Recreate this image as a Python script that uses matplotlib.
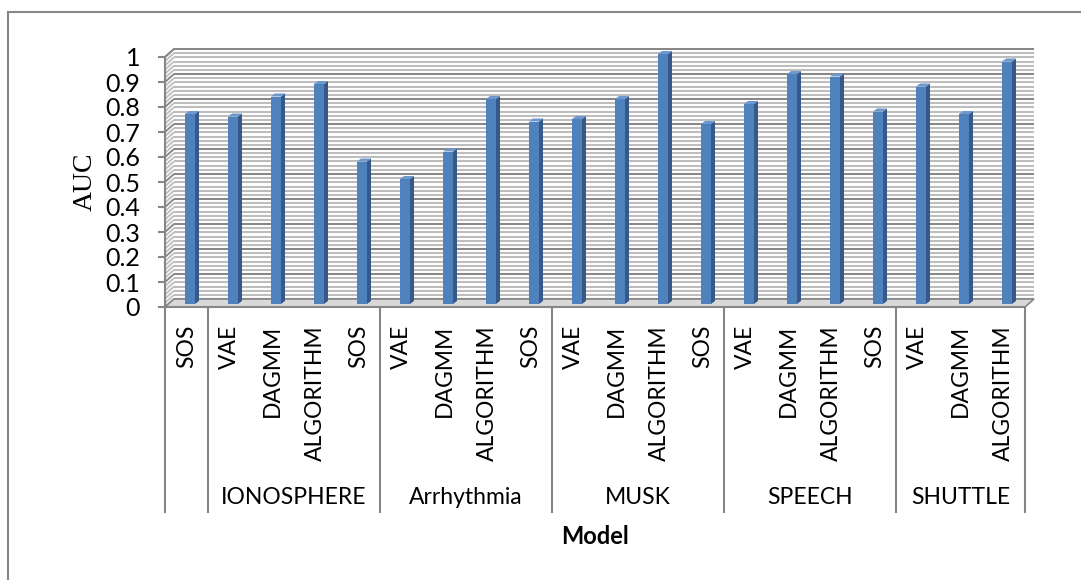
"""AUC by model and dataset - Excel style 3D column chart."""

import matplotlib
matplotlib.use("Agg")
import matplotlib.pyplot as plt
import numpy as np
from matplotlib.collections import LineCollection
from matplotlib.lines import Line2D
from matplotlib.patches import Polygon, Rectangle

models = ["SOS",
          "VAE", "DAGMM", "ALGORITHM", "SOS",
          "VAE", "DAGMM", "ALGORITHM", "SOS",
          "VAE", "DAGMM", "ALGORITHM", "SOS",
          "VAE", "DAGMM", "ALGORITHM", "SOS",
          "VAE", "DAGMM", "ALGORITHM"]
auc = [0.76,
       0.75, 0.83, 0.88, 0.57,
       0.50, 0.61, 0.82, 0.73,
       0.74, 0.82, 1.00, 0.72,
       0.80, 0.92, 0.91, 0.77,
       0.87, 0.76, 0.97]
groups = ["", "IONOSPHERE", "Arrhythmia", "MUSK", "SPEECH", "SHUTTLE"]
group_edges = [0, 1, 5, 9, 13, 17, 20]
yticks = [0, 0.1, 0.2, 0.3, 0.4, 0.5, 0.6, 0.7, 0.8, 0.9, 1]

W, H, DPI = 1081, 580, 100
AX_L, AX_R, AX_B, AX_T = 165, 1025, 307, 57  # pixel box of the front plane
n = len(models)
px_x = (AX_R - AX_L) / n       # pixels per category
px_y = (AX_B - AX_T) / 1.0     # pixels per AUC unit

FONT = ["Lato", "DejaVu Sans"]
GRID = "#868686"
LIGHT = "#bdbdbd"
BAR = "#4f81bd"
BAR_SIDE = "#36598a"
BAR_TOP = "#6d98cf"

fig = plt.figure(figsize=(W / DPI, H / DPI), dpi=DPI)
ax = fig.add_axes([AX_L / W, 1 - AX_B / H, (AX_R - AX_L) / W, (AX_B - AX_T) / H])
ax.set_xlim(0, n)
ax.set_ylim(0, 1)
ax.patch.set_visible(False)

# 3D depth of the walls, in data units
DX, DY = 9 / px_x, 8 / px_y

# back wall with striped pattern
ax.add_patch(Rectangle((DX, DY), n, 1, facecolor="white", edgecolor="none",
                       clip_on=False, zorder=0))
stripes = np.arange(0, 1.0001, 1 / 60)
ax.hlines(stripes + DY, DX, n + DX, color=LIGHT, lw=1.5, clip_on=False, zorder=1)
ax.hlines(np.array(yticks) + DY, DX, n + DX, color=GRID, lw=1.4, clip_on=False, zorder=2)

# left side wall
side = [[(0, s), (DX, s + DY)] for s in stripes]
ax.add_collection(LineCollection(side, colors=LIGHT, lw=1.3, clip_on=False, zorder=1))
major_side = [[(0, s), (DX, s + DY)] for s in yticks]
ax.add_collection(LineCollection(major_side, colors=GRID, lw=1.2, clip_on=False, zorder=2))

# floor
ax.add_patch(Polygon([(0, 0), (n, 0), (n + DX, DY), (DX, DY)], closed=True,
                     facecolor="#d9d9d9", edgecolor=GRID, lw=1.2,
                     clip_on=False, zorder=2))

# bars: front face plus side and top faces
x = np.arange(n) + 0.5
bw = 10 / px_x
bx = x - 1.5 / px_x
by = 3 / px_y
ddx, ddy = 4 / px_x, 3 / px_y
ax.bar(bx, auc, width=bw, bottom=by, align="edge", color=BAR,
       edgecolor="none", clip_on=False, zorder=5)
for xl, v in zip(bx, auc):
    xr, top = xl + bw, by + v
    ax.add_patch(Polygon([(xr, by), (xr + ddx, by + ddy), (xr + ddx, top + ddy), (xr, top)],
                         closed=True, facecolor=BAR_SIDE, edgecolor="none",
                         clip_on=False, zorder=5))
    ax.add_patch(Polygon([(xl, top), (xr, top), (xr + ddx, top + ddy), (xl + ddx, top + ddy)],
                         closed=True, facecolor=BAR_TOP, edgecolor="none",
                         clip_on=False, zorder=5))

# axes
for s in ["top", "right"]:
    ax.spines[s].set_visible(False)
for s in ["left", "bottom"]:
    ax.spines[s].set_color(GRID)
    ax.spines[s].set_linewidth(1.5)
    ax.spines[s].set_zorder(6)
ax.plot([0, DX], [1, 1 + DY], color=GRID, lw=1.3, clip_on=False, zorder=3)

ax.set_yticks(yticks)
ax.set_yticklabels([f"{t:g}" for t in yticks], fontsize=18, family=FONT)
ax.tick_params(axis="y", length=5, width=1.5, color=GRID, pad=13)

ax.set_xticks(x)
ax.set_xticklabels(models, rotation=90, fontsize=16.5, family=FONT, va="top")
ax.tick_params(axis="x", length=0, pad=13)

# group separators and group names
sep_bottom = -(513 - AX_B) / px_y
ax.vlines(group_edges, sep_bottom, 0, color=GRID, lw=1.5, clip_on=False)
for g, a, b in zip(groups, group_edges[:-1], group_edges[1:]):
    ax.text((a + b) / 2, -(497 - AX_B) / px_y, g, ha="center", va="center",
            fontsize=16.5, family=FONT)

ax.text((595 - AX_L) / px_x, -(537 - AX_B) / px_y, "Model", ha="center",
        va="center", fontsize=17, fontweight="bold", family=FONT)
ax.text((85 - AX_L) / px_x, (AX_B - 182) / px_y, "AUC", ha="center", va="center",
        rotation=90, fontsize=20, family=["Liberation Serif", "DejaVu Serif"])

# outer chart border (left and top edges are inside the picture)
fig.add_artist(Line2D([8 / W, 8 / W], [0, 1 - 12 / H], color=GRID, lw=1.5))
fig.add_artist(Line2D([8 / W, 1], [1 - 12 / H, 1 - 12 / H], color=GRID, lw=1.5))

fig.savefig("out.png", dpi=DPI, facecolor="white")
